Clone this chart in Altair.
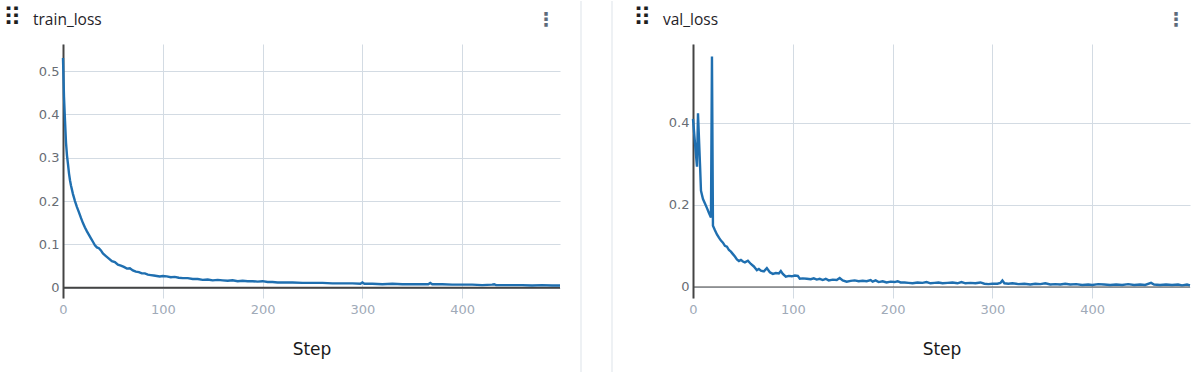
import altair as alt
import pandas as pd

# ---------------- data ----------------
train_steps = [0, 1, 2, 3, 4, 5, 6, 7, 8, 10, 12, 14, 16, 18, 20, 22, 24, 26, 28, 30,
               32, 34, 36, 38, 40, 43, 46, 49, 52, 55, 58, 61, 64, 67, 70, 73, 76, 79, 82, 85,
               88, 91, 94, 97, 100, 104, 108, 112, 116, 120, 125, 130, 135, 140, 145, 150, 155, 160, 165, 170,
               175, 180, 185, 190, 195, 200, 205, 210, 215, 220, 230, 240, 250, 260, 270, 280, 290, 298, 300, 302,
               310, 320, 330, 340, 350, 360, 366, 368, 370, 380, 390, 400, 410, 420, 430, 432, 434, 440, 450, 460,
               470, 480, 490, 498]
train_loss = [0.530, 0.440, 0.386, 0.335, 0.305, 0.285, 0.264, 0.248, 0.236, 0.216, 0.200, 0.186, 0.174, 0.161, 0.149, 0.139, 0.130, 0.122, 0.114, 0.106,
              0.098, 0.093, 0.091, 0.086, 0.079, 0.073, 0.067, 0.061, 0.059, 0.053, 0.051, 0.048, 0.044, 0.045, 0.040, 0.037, 0.036, 0.033, 0.033, 0.030,
              0.029, 0.028, 0.027, 0.026, 0.027, 0.026, 0.024, 0.025, 0.023, 0.022, 0.022, 0.020, 0.020, 0.018, 0.019, 0.017, 0.018, 0.017, 0.016, 0.017,
              0.015, 0.016, 0.015, 0.015, 0.014, 0.015, 0.013, 0.013, 0.012, 0.012, 0.012, 0.011, 0.011, 0.011, 0.010, 0.010, 0.010, 0.009, 0.012, 0.009,
              0.009, 0.008, 0.009, 0.008, 0.008, 0.008, 0.008, 0.011, 0.008, 0.008, 0.007, 0.007, 0.007, 0.006, 0.007, 0.008, 0.006, 0.006, 0.006, 0.006,
              0.005, 0.006, 0.005, 0.005]

val_steps = [0, 2, 4, 5, 7, 8, 10, 12, 14, 16, 18, 19, 20, 22, 24, 26, 28, 30, 32, 34,
             36, 38, 40, 42, 44, 46, 48, 50, 52, 55, 58, 61, 64, 66, 68, 71, 74, 77, 80, 83,
             86, 88, 90, 93, 96, 99, 102, 105, 107, 110, 114, 118, 121, 124, 127, 130, 133, 136, 140, 144,
             147, 150, 154, 158, 162, 166, 170, 174, 178, 180, 183, 186, 190, 194, 198, 202, 205, 208, 212, 216,
             220, 225, 230, 234, 238, 242, 246, 250, 255, 260, 265, 269, 273, 278, 283, 288, 292, 296, 300, 305,
             308, 310, 312, 316, 320, 326, 332, 338, 343, 348, 353, 358, 363, 368, 373, 378, 384, 390, 396, 400,
             406, 412, 418, 424, 430, 436, 442, 448, 453, 459, 462, 468, 474, 480, 486, 490, 495, 498]
val_loss = [0.409, 0.350, 0.293, 0.423, 0.300, 0.234, 0.214, 0.203, 0.192, 0.180, 0.169, 0.561, 0.149, 0.138, 0.128, 0.120, 0.113, 0.108, 0.100, 0.098,
            0.090, 0.086, 0.080, 0.074, 0.067, 0.063, 0.066, 0.062, 0.060, 0.064, 0.056, 0.050, 0.041, 0.044, 0.040, 0.038, 0.046, 0.036, 0.032, 0.034,
            0.033, 0.039, 0.032, 0.025, 0.027, 0.026, 0.028, 0.027, 0.020, 0.021, 0.020, 0.019, 0.021, 0.018, 0.020, 0.017, 0.020, 0.016, 0.018, 0.017,
            0.022, 0.016, 0.013, 0.015, 0.016, 0.014, 0.015, 0.014, 0.017, 0.013, 0.016, 0.012, 0.014, 0.011, 0.013, 0.012, 0.014, 0.011, 0.011, 0.010,
            0.009, 0.011, 0.010, 0.012, 0.009, 0.010, 0.011, 0.009, 0.010, 0.011, 0.009, 0.012, 0.009, 0.010, 0.009, 0.011, 0.008, 0.007, 0.008, 0.008,
            0.010, 0.016, 0.009, 0.008, 0.009, 0.007, 0.008, 0.006, 0.008, 0.007, 0.009, 0.006, 0.007, 0.006, 0.008, 0.006, 0.007, 0.005, 0.006, 0.005,
            0.007, 0.006, 0.005, 0.006, 0.005, 0.007, 0.005, 0.006, 0.005, 0.010, 0.006, 0.005, 0.006, 0.005, 0.006, 0.004, 0.006, 0.004]

panel_titles = ["train_loss", "val_loss"]
x_title = "Step"
x_ticks = [0, 100, 200, 300, 400]
train_y_ticks = [0, 0.1, 0.2, 0.3, 0.4, 0.5]
val_y_ticks = [0, 0.2, 0.4]
step_domain = [0, 498]
train_y_domain = [-0.0238, 0.5624]
val_y_domain = [-0.0268, 0.5915]

assert len(train_steps) == len(train_loss)
assert len(val_steps) == len(val_loss)

# ---------------- styling ----------------
W, H = 497, 254
TOP, BOTTOM = 43, 75
LINE_COLOR = "#1f6fb0"
GRID_COLOR = "#d3dbe3"
AXIS_DARK = "#444444"
DIVIDER = "#dde3e9"


def panel(steps, losses, title, yticks, ydomain, zero_width, left_pad, dividers, right_pad):
    df = pd.DataFrame({"step": steps, "loss": losses})
    one = pd.DataFrame({"label": [title]})

    x_enc = alt.X(
        "step:Q",
        scale=alt.Scale(domain=step_domain, nice=False, zero=False),
        axis=alt.Axis(
            values=x_ticks, title=x_title, grid=True, gridColor=GRID_COLOR, gridWidth=1,
            domain=False, ticks=False, labelFlush=False, labelPadding=5,
            labelFont="DejaVu Sans", labelFontSize=13, labelColor="#a0aab8",
            titleFont="DejaVu Sans", titleFontSize=17, titleFontWeight="normal",
            titleColor="#1a1a1a", titlePadding=25,
        ),
    )
    y_enc = alt.Y(
        "loss:Q",
        scale=alt.Scale(domain=ydomain, nice=False, zero=False),
        axis=alt.Axis(
            values=yticks, format=".1~f", title=None, grid=True, gridColor=GRID_COLOR,
            gridWidth=1, domain=True, domainColor=AXIS_DARK, domainWidth=2, ticks=False,
            labelPadding=4, labelFont="DejaVu Sans", labelFontSize=13, labelColor="#686d74",
        ),
    )

    zero = alt.Chart(one).mark_rule(color=AXIS_DARK, strokeWidth=zero_width).encode(y=alt.datum(0))
    line = alt.Chart(df).mark_line(color=LINE_COLOR, strokeWidth=2.4).encode(x=x_enc, y=y_enc)

    title_txt = alt.Chart(one).mark_text(
        align="left", baseline="middle", font="Open Sans", fontSize=15.5, color="#1f2328"
    ).encode(x=alt.value(-30), y=alt.value(-24), text="label:N")
    drag_icon = alt.Chart(one).mark_text(
        align="center", baseline="middle", font="DejaVu Sans", fontSize=25,
        color="#1e1e1e"
    ).encode(x=alt.value(-50.5), y=alt.value(-26), text=alt.value("⠿"))
    kebab = alt.Chart(one).mark_text(
        align="center", baseline="middle", font="DejaVu Sans", fontSize=19, fontWeight="bold",
        color="#5d6b7a",
    ).encode(x=alt.value(W - 14), y=alt.value(-24), text=alt.value("⋮"))

    layers = [zero, line, title_txt, drag_icon, kebab]
    # invisible rules that pin the panel's outer bounds
    for xv in (left_pad, right_pad):
        if xv is not None:
            layers.append(
                alt.Chart(one).mark_rule(strokeOpacity=0, color="white").encode(
                    x=alt.value(xv), y=alt.value(-TOP), y2=alt.value(H + BOTTOM)
                )
            )
    for xv in dividers:
        layers.append(
            alt.Chart(one).mark_rule(color=DIVIDER, strokeWidth=1).encode(
                x=alt.value(xv), y=alt.value(-TOP), y2=alt.value(H + BOTTOM)
            )
        )
    return alt.layer(*layers).properties(width=W, height=H)


left = panel(train_steps, train_loss, panel_titles[0], train_y_ticks, train_y_domain,
             2, -63, [], W + 10)
right = panel(val_steps, val_loss, panel_titles[1], val_y_ticks, val_y_domain,
              1.2, None, [-112, -81], W + 5)

chart = (
    alt.hconcat(left, right, spacing=10)
    .properties(padding=0, background="white")
    .configure_view(stroke=None)
)

chart.save("out.html", embed_options={"renderer": "svg", "actions": False})
